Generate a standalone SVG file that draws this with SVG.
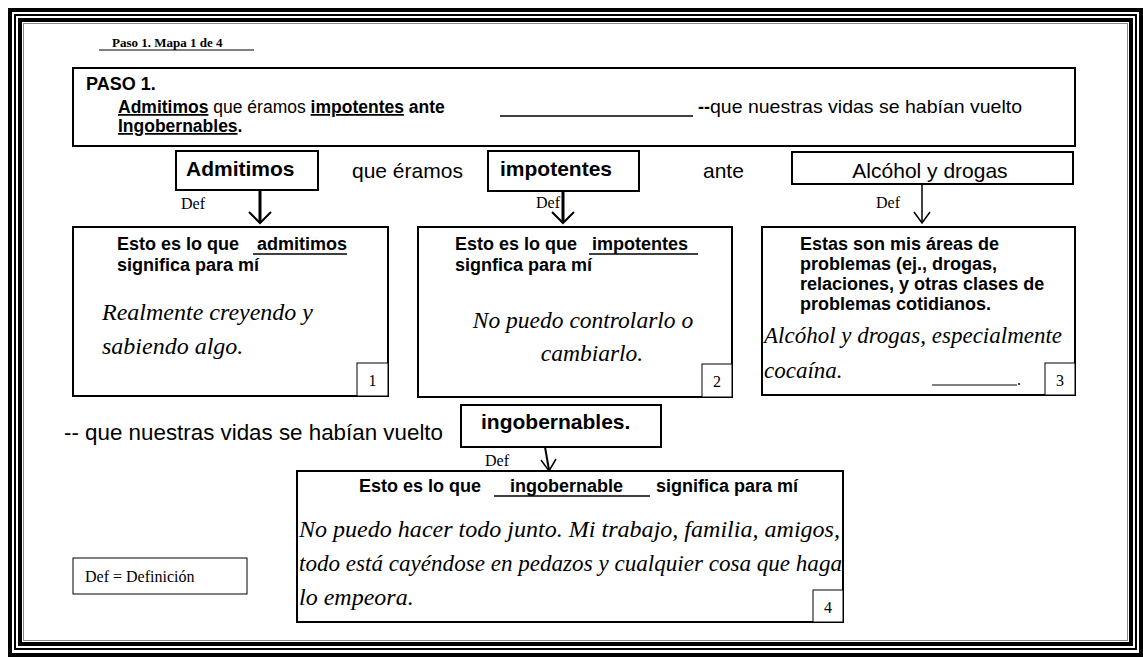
<svg xmlns="http://www.w3.org/2000/svg" width="1143" height="658" viewBox="0 0 1143 658">
<style>
.sans{font-family:"Liberation Sans",Arial,sans-serif;fill:#000}
.b{font-weight:bold}
.serif{font-family:"Liberation Serif","Times New Roman",serif;fill:#000}
.it{font-family:"Liberation Serif","Times New Roman",serif;font-style:italic;fill:#000}
.box{fill:#fff;stroke:#000;stroke-width:2}
.num{fill:#fff;stroke:#000;stroke-width:1}
.ul{stroke:#000;stroke-width:1.5}
.u{text-decoration:underline}
.conn{fill:none;stroke:#000;stroke-linecap:butt}
</style>
<rect width="1143" height="658" fill="#fff"/>
<g id="frame" fill="none">
<rect x="10" y="10" width="1131" height="645" stroke="#000" stroke-width="4"/>
<rect x="15" y="15" width="1121" height="634" stroke="#000" stroke-width="2"/>
<rect x="20" y="20" width="1111" height="624" stroke="#000" stroke-width="4"/>
<rect x="23.5" y="23.5" width="1104" height="617" stroke="#888" stroke-width="1"/>
</g>
<g id="title">
<text class="serif b" x="112" y="47" font-size="13">Paso 1. Mapa 1 de 4</text>
<line x1="99" y1="50" x2="254" y2="50" stroke="#000" stroke-width="1"/>
</g>
<g id="paso">
<rect class="box" x="73" y="68" width="1002" height="78"/>
<text class="sans b" x="86" y="90" font-size="18">PASO 1.</text>
<text class="sans" x="118" y="113" font-size="17.5"><tspan class="b u">Admitimos</tspan> que éramos <tspan class="b u">impotentes</tspan><tspan class="b"> ante</tspan></text>
<line class="ul" x1="500" y1="116" x2="693" y2="116"/>
<text class="sans b" x="698" y="113" font-size="18">--</text>
<text class="sans" x="710" y="113" font-size="18.5" textLength="312" lengthAdjust="spacingAndGlyphs">que nuestras vidas se habían vuelto</text>
<text class="sans b" x="118" y="132" font-size="17.5"><tspan class="u">Ingobernables</tspan>.</text>
</g>
<g id="n-admitimos">
<rect class="box" x="176" y="151" width="142" height="39"/>
<text class="sans b" x="186" y="176" font-size="21">Admitimos</text>
</g>
<text class="sans" x="352" y="178" font-size="21">que éramos</text>
<g id="n-impotentes">
<rect class="box" x="488" y="151" width="151" height="40"/>
<text class="sans b" x="500" y="176" font-size="21">impotentes</text>
</g>
<text class="sans" x="703" y="178" font-size="21">ante</text>
<g id="n-alcohol">
<rect class="box" x="792" y="152" width="281" height="32" stroke-width="1.5"/>
<text class="sans" x="930" y="178" font-size="21" text-anchor="middle">Alcóhol y drogas</text>
</g>
<g id="box1">
<rect class="box" x="73" y="227" width="315" height="169"/>
<text class="sans b" x="117" y="250" font-size="18">Esto es lo que</text>
<text class="sans b" x="257" y="250" font-size="18">admitimos</text>
<line class="ul" x1="253" y1="254" x2="347" y2="254"/>
<text class="sans b" x="117" y="271" font-size="18">significa para mí</text>
<text class="it" x="102" y="320" font-size="24">Realmente creyendo y</text>
<text class="it" x="102" y="354" font-size="24">sabiendo algo.</text>
<rect class="num" x="357" y="363" width="31" height="33"/>
<text class="serif" x="372.5" y="386" font-size="16" text-anchor="middle">1</text>
</g>
<g id="box2">
<rect class="box" x="418" y="227" width="314" height="170"/>
<text class="sans b" x="455" y="250" font-size="18">Esto es lo que</text>
<text class="sans b" x="592" y="250" font-size="18">impotentes</text>
<line class="ul" x1="589" y1="254" x2="698" y2="254"/>
<text class="sans b" x="455" y="271" font-size="18">signfica para mí</text>
<text class="it" x="583" y="328" font-size="23.5" text-anchor="middle">No puedo controlarlo o</text>
<text class="it" x="592" y="361" font-size="23.5" text-anchor="middle">cambiarlo.</text>
<rect class="num" x="702" y="364" width="30" height="33"/>
<text class="serif" x="717" y="387" font-size="16" text-anchor="middle">2</text>
</g>
<g id="box3">
<rect class="box" x="762" y="227" width="313" height="168"/>
<text class="sans b" x="800" y="250" font-size="18">Estas son mis áreas de</text>
<text class="sans b" x="800" y="270" font-size="18">problemas (ej., drogas,</text>
<text class="sans b" x="800" y="290" font-size="18">relaciones, y otras clases de</text>
<text class="sans b" x="800" y="310" font-size="18">problemas cotidianos.</text>
<text class="it" x="764" y="343" font-size="23">Alcóhol y drogas, especialmente</text>
<text class="it" x="764" y="378" font-size="23">cocaína.</text>
<line x1="932" y1="385" x2="1017" y2="385" stroke="#000" stroke-width="1"/>
<text class="serif" x="1017" y="385" font-size="16">.</text>
<rect class="num" x="1045" y="363" width="30" height="32"/>
<text class="serif" x="1060" y="386" font-size="16" text-anchor="middle">3</text>
</g>
<text class="sans" x="64" y="440" font-size="22" textLength="379" lengthAdjust="spacingAndGlyphs">--  que nuestras vidas se habían vuelto</text>
<g id="n-ingobernables">
<rect class="box" x="461" y="405" width="200" height="42"/>
<text class="sans b" x="481" y="429" font-size="21">ingobernables.</text>
</g>
<g id="box4">
<rect class="box" x="297" y="471" width="546" height="151"/>
<text class="sans b" x="359" y="492" font-size="18">Esto es lo que</text>
<text class="sans b" x="510" y="492" font-size="18">ingobernable</text>
<line class="ul" x1="494" y1="496" x2="650" y2="496"/>
<text class="sans b" x="656" y="492" font-size="18">significa para mí</text>
<text class="it" x="299" y="537" font-size="24" textLength="541" lengthAdjust="spacingAndGlyphs">No puedo hacer todo junto.  Mi trabajo, familia, amigos,</text>
<text class="it" x="299" y="571" font-size="24" textLength="543" lengthAdjust="spacingAndGlyphs">todo está cayéndose en pedazos y cualquier cosa que haga</text>
<text class="it" x="299" y="605" font-size="24">lo empeora.</text>
<rect class="num" x="813" y="590" width="30" height="32"/>
<text class="serif" x="828" y="613" font-size="16" text-anchor="middle">4</text>
</g>
<g id="legend">
<rect x="73" y="558" width="174" height="36" fill="#fff" stroke="#000" stroke-width="1"/>
<text class="serif" x="85" y="582" font-size="16">Def = Definición</text>
</g>
<g id="connectors">
<line class="conn" x1="260" y1="190" x2="260" y2="222" stroke-width="3"/>
<polyline class="conn" points="249,212 260,223 271,212" stroke-width="2"/>
<line class="conn" x1="563" y1="191" x2="563" y2="222" stroke-width="3"/>
<polyline class="conn" points="552,212 563,223 574,212" stroke-width="2"/>
<line class="conn" x1="922" y1="184" x2="922" y2="223" stroke-width="1.5"/>
<polyline class="conn" points="914,212 922,223 930,212" stroke-width="1.5"/>
<line class="conn" x1="545" y1="447" x2="549" y2="470" stroke-width="2"/>
<polyline class="conn" points="541,460 549,471 556,459" stroke-width="1.5"/>
<text class="serif" x="181" y="209" font-size="16">Def</text>
<text class="serif" x="536" y="208" font-size="16">Def</text>
<text class="serif" x="876" y="208" font-size="16">Def</text>
<text class="serif" x="485" y="466" font-size="16">Def</text>
</g>
</svg>
